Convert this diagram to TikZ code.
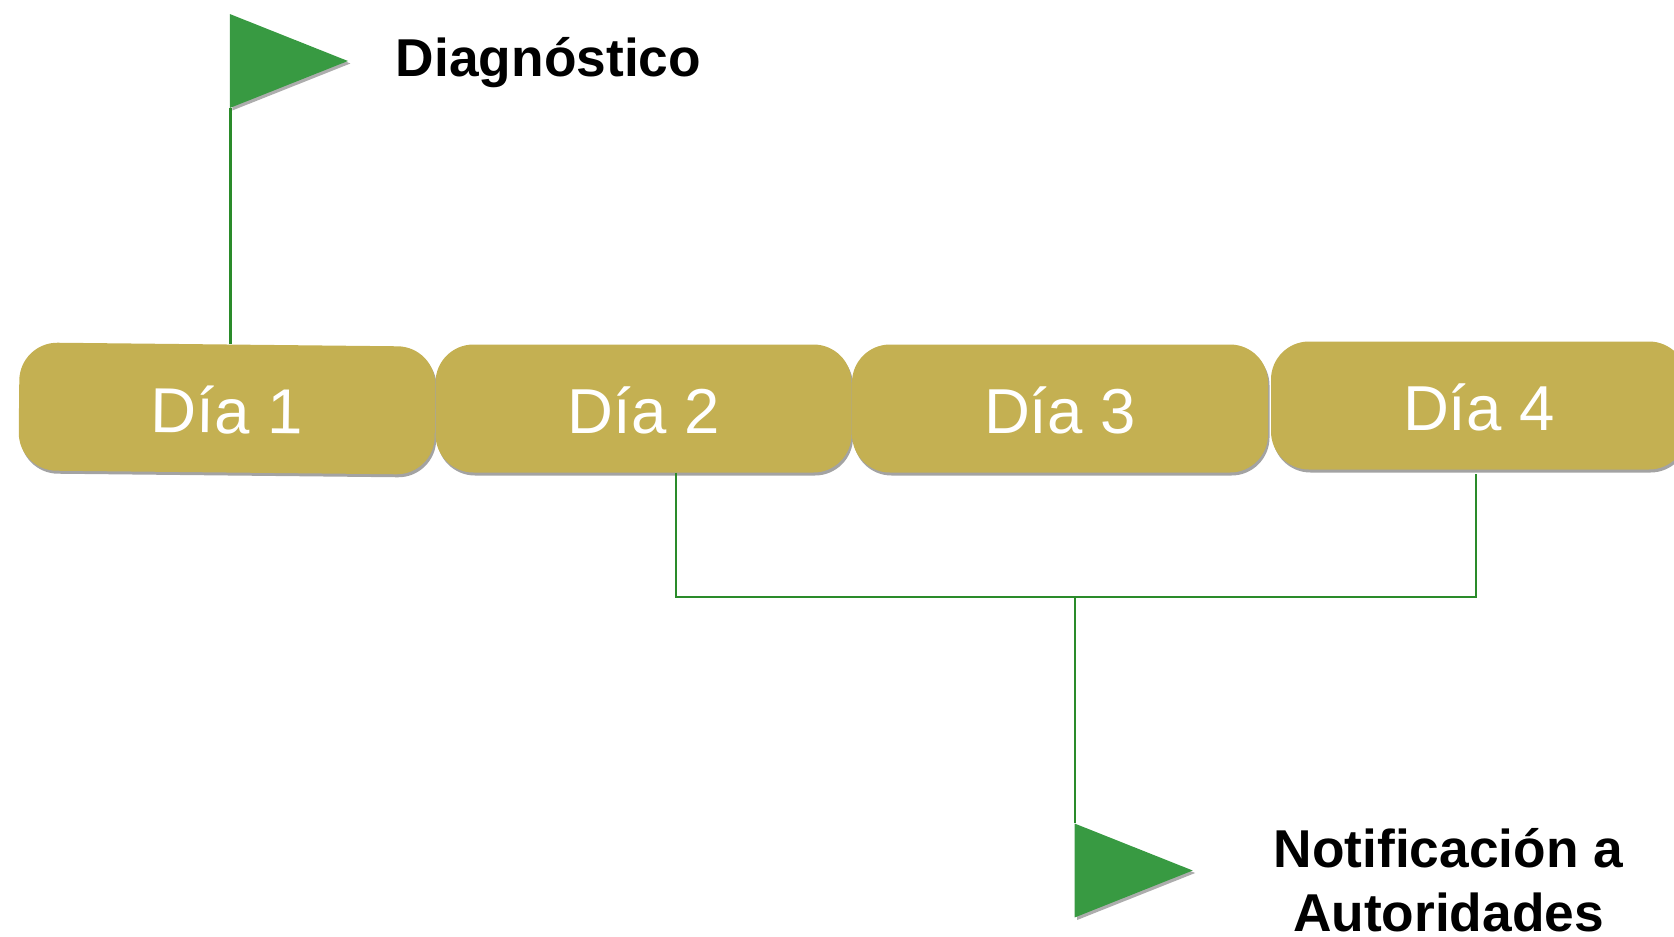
\documentclass[tikz,border=0pt]{standalone}
\usepackage{fontspec}
\setmainfont{Liberation Sans}
\usetikzlibrary{shapes.geometric,shadows}
\definecolor{oro}{HTML}{C4B052}
\definecolor{verde}{HTML}{389A42}
\definecolor{linea}{HTML}{2A8B2A}

\begin{document}
\begin{tikzpicture}[x=1pt, y=-1pt, node distance={416.5pt},
  dia/.style = {fill=oro, text=white, rounded corners=38pt, minimum width=416pt, minimum height=128pt, inner sep=0pt, text height=49.5pt, text depth=0pt, font=\fontsize{63.5}{63.5}\selectfont, drop shadow={fill=black!80, opacity=.45, shadow xshift=1.5pt, shadow yshift=-3pt}},
  flag/.style = {fill=verde, isosceles triangle, isosceles triangle apex angle=43.4, minimum height=118pt, inner sep=0pt, anchor=lower side, drop shadow={fill=black!80, opacity=.4, shadow xshift=2.5pt, shadow yshift=-2.5pt}},
  hito/.style = {font=\fontsize{53.3}{64}\selectfont\bfseries, align=center, inner sep=0pt},
  pole/.style = {draw=linea, line width=2.5pt}]
\useasboundingbox (0,0) rectangle (1674,937);
\node[dia, rotate=-0.6] (d1) at (227,408.5) {Día 1};
\node[dia] (d2) [right of=d1] {Día 2};
\node[dia] (d3) [right of=d2] {Día 3};
\node[dia] (d4) [right of=d3, xshift=2.5pt, yshift=3pt] {Día 4};
\node[flag] (f1) at (229.7,61) {};
\node[flag] (f2) at (1074.5,870.5) {};
\node[hito, anchor=base] (t1) at (548.5,76) {Diagnóstico};
\node[hito, anchor=center] (t2) at (1448.5,880) {Notificación a\\Autoridades};
\coordinate (c2) at (676,597);
\coordinate (c4) at (1476,597);
\coordinate (c3) at (1075,597);
\draw[pole] ([xshift=1pt]f1.right corner) -- ([xshift=1pt]f1.right corner |- d1.north);
\draw[pole] (d2.south -| c2) -- (c2) -- (c4) -- ([yshift=-4pt]d4.south -| c4);
\draw[pole] (c3) -- (c3 |- f2.left corner);
\end{tikzpicture}
\end{document}
